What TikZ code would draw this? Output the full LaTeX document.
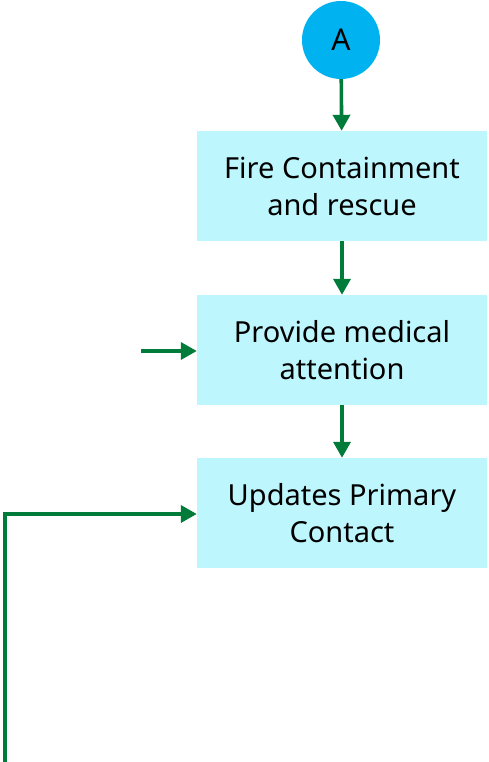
\documentclass[tikz,border=0pt]{standalone}
\usepackage{fontspec}
\setmainfont{Noto Sans}
\usetikzlibrary{arrows.meta}
\definecolor{boxfill}{HTML}{BDF6FC}
\definecolor{circfill}{HTML}{00B3F0}
\definecolor{linegreen}{HTML}{007B3A}
\begin{document}
\begin{tikzpicture}[x=1pt,y=-1pt,
  procbox/.style={fill=boxfill,draw=none,minimum width=290pt,minimum height=110pt,inner sep=0pt,align=center,font=\fontsize{29}{37}\selectfont,text=black},
  conn/.style={draw=linegreen,line width=3.6pt,-{Triangle[length=16pt,width=17pt]}}]
\useasboundingbox (0,0) rectangle (488,762);
\node[circle,fill=circfill,minimum size=78pt,inner sep=0pt,font=\fontsize{30}{32}\selectfont] (A) at (341,40) {A};
\node[procbox] (b1) at (342,186) {Fire Containment\\and rescue};
\node[procbox] (b2) at (342,350) {Provide medical\\attention};
\node[procbox] (b3) at (342,513) {Updates Primary\\Contact};
\coordinate (lin) at (141,351);
\coordinate (bot) at (5,762);
\draw[conn] (A) -- (b1);
\draw[conn] (b1) -- (b2);
\draw[conn] (b2) -- (b3);
\draw[conn] (lin) -- (b2.west |- lin);
\draw[conn] (bot) |- (b3.west |- 0,514);
\end{tikzpicture}
\end{document}
